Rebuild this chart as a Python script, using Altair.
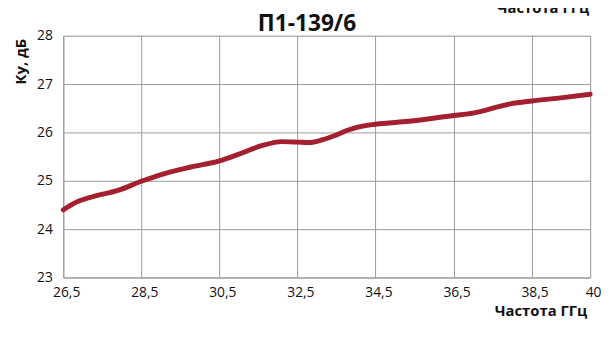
import altair as alt
import pandas as pd

# Data
freq = [26.5, 26.9, 27.25, 27.9, 28.5, 29.1, 29.75, 30.5, 31.0, 31.6, 32.1, 32.5,
        32.8, 33.15, 33.5, 33.8, 34.0, 34.5, 35.35, 36.5, 37.0, 37.95, 38.5, 39.3, 40.0]
gain = [24.40, 24.58, 24.67, 24.80, 24.99, 25.15, 25.28, 25.41, 25.55, 25.73, 25.81, 25.80,
        25.79, 25.85, 25.95, 26.05, 26.10, 26.17, 26.23, 26.35, 26.40, 26.59, 26.65, 26.72, 26.79]
x_ticks = [26.5, 28.5, 30.5, 32.5, 34.5, 36.5, 38.5, 40]
y_ticks = [23, 24, 25, 26, 27, 28]

title_text = "П1-139/6"
x_title = "Частота ГГц"
y_title = "Ку, дБ"

df = pd.DataFrame({"f": freq, "g": gain})

FONT = "Open Sans"
GRID = "#9b9b9b"
W, H = 534, 245

line = alt.Chart(df).mark_line(
    color="#A4202E", strokeWidth=5, interpolate="monotone", strokeCap="round"
).encode(
    x=alt.X("f:Q", scale=alt.Scale(domain=[26.5, 40], nice=False, zero=False),
            axis=alt.Axis(values=x_ticks, title=None, grid=True, gridColor=GRID,
                          gridOpacity=1, domainColor=GRID, ticks=False,
                          labelFlush=False,
                          labelPadding=8, labelOffset=3, labelFontSize=14,
                          labelFont=FONT, labelColor="#111",
                          labelExpr="replace(toString(datum.value), '.', ',')")),
    y=alt.Y("g:Q", scale=alt.Scale(domain=[23, 28], nice=False, zero=False),
            axis=alt.Axis(values=y_ticks, title=None, grid=True, gridColor=GRID,
                          gridOpacity=1, domainColor=GRID, ticks=False,
                          labelPadding=11, labelFontSize=14, labelFont=FONT,
                          labelColor="#111")),
)

def txt(text, x, y, size, align="center", angle=0, baseline="alphabetic"):
    return alt.Chart(pd.DataFrame({"t": [text]})).mark_text(
        font=FONT, fontSize=size, fontWeight="bold", color="#111",
        align=align, baseline=baseline, angle=angle
    ).encode(text="t:N", x=alt.value(x), y=alt.value(y))

title = txt(title_text, 247, -5, 23)
xt = txt(x_title, 531, 284, 15, align="right")
xt_top = txt(x_title, 533, -23, 15, align="right")
yt = txt(y_title, -43, 3, 15, align="right", angle=270, baseline="middle")

chart = alt.layer(line, title, xt, xt_top, yt).properties(
    width=W, height=H,
    autosize=alt.AutoSizeParams(type="none"),
    padding={"left": 56, "top": 26, "right": 13, "bottom": 43},
).configure_view(stroke=None).configure(background="white")

chart.save("out.html", embed_options={"renderer": "svg", "actions": False})
